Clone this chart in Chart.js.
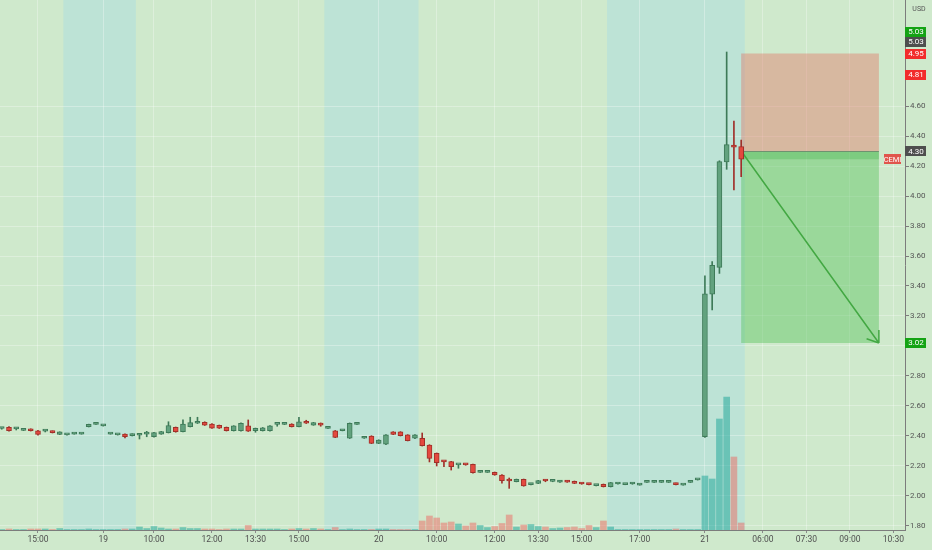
<!DOCTYPE html>
<html>
<head>
<meta charset="utf-8">
<script src="https://cdn.jsdelivr.net/npm/chart.js@4.4.0/dist/chart.umd.min.js"></script>
<style>
  html, body { margin: 0; padding: 0; background: #cfe9cc; }
  #wrap { width: 932px; height: 550px; }
</style>
</head>
<body>
<div id="wrap"><canvas id="chart"></canvas></div>
<script>
// CEMI 15 min bars, 18-21

const opens = [2.450, 2.458, 2.447, 2.437, 2.445, 2.435, 2.433, 2.431, 2.411, 2.407,
  2.413, 2.413, 2.462, 2.478, 2.467, 2.413, 2.407, 2.413, 2.402, 2.405,
  2.413, 2.395, 2.413, 2.422, 2.458, 2.429, 2.462, 2.485, 2.491, 2.480,
  2.471, 2.458, 2.435, 2.435, 2.467, 2.435, 2.435, 2.435, 2.478, 2.478,
  2.480, 2.462, 2.498, 2.473, 2.485, 2.451, 2.435, 2.435, 2.385, 2.478,
  2.385, 2.400, 2.351, 2.345, 2.427, 2.427, 2.407, 2.385, 2.385, 2.340,
  2.285, 2.230, 2.229, 2.207, 2.213, 2.211, 2.158, 2.158, 2.158, 2.140,
  2.105, 2.096, 2.111, 2.076, 2.084, 2.103, 2.097, 2.093, 2.102, 2.098,
  2.085, 2.080, 2.069, 2.078, 2.062, 2.080, 2.076, 2.080, 2.073, 2.091,
  2.091, 2.091, 2.091, 2.084, 2.073, 2.091, 2.107, 2.395, 3.345, 3.524,
  4.227, 4.340, 4.329];
const highs = [2.455, 2.462, 2.455, 2.442, 2.448, 2.437, 2.440, 2.434, 2.428, 2.408,
  2.414, 2.414, 2.479, 2.479, 2.468, 2.414, 2.408, 2.415, 2.415, 2.415,
  2.431, 2.424, 2.431, 2.495, 2.460, 2.507, 2.525, 2.525, 2.495, 2.482,
  2.473, 2.460, 2.469, 2.487, 2.507, 2.453, 2.457, 2.469, 2.480, 2.480,
  2.482, 2.525, 2.505, 2.491, 2.487, 2.452, 2.437, 2.436, 2.487, 2.479,
  2.386, 2.402, 2.375, 2.409, 2.429, 2.429, 2.409, 2.409, 2.420, 2.342,
  2.287, 2.235, 2.231, 2.210, 2.215, 2.213, 2.159, 2.159, 2.160, 2.142,
  2.120, 2.113, 2.113, 2.082, 2.104, 2.108, 2.100, 2.104, 2.104, 2.100,
  2.087, 2.082, 2.074, 2.080, 2.091, 2.081, 2.077, 2.087, 2.074, 2.092,
  2.092, 2.092, 2.092, 2.086, 2.074, 2.092, 2.108, 3.467, 3.562, 4.235,
  4.960, 4.500, 4.373];
const lows = [2.445, 2.432, 2.440, 2.436, 2.433, 2.405, 2.427, 2.420, 2.409, 2.406,
  2.412, 2.412, 2.460, 2.477, 2.466, 2.412, 2.406, 2.387, 2.400, 2.380,
  2.395, 2.393, 2.411, 2.420, 2.425, 2.427, 2.460, 2.483, 2.470, 2.450,
  2.450, 2.433, 2.433, 2.433, 2.430, 2.425, 2.433, 2.433, 2.465, 2.476,
  2.460, 2.460, 2.483, 2.471, 2.465, 2.450, 2.389, 2.434, 2.383, 2.477,
  2.384, 2.349, 2.349, 2.343, 2.409, 2.400, 2.367, 2.383, 2.333, 2.227,
  2.200, 2.195, 2.173, 2.185, 2.205, 2.153, 2.157, 2.157, 2.138, 2.085,
  2.051, 2.094, 2.065, 2.074, 2.082, 2.095, 2.095, 2.091, 2.091, 2.082,
  2.078, 2.074, 2.067, 2.060, 2.060, 2.079, 2.075, 2.078, 2.072, 2.090,
  2.090, 2.090, 2.090, 2.074, 2.072, 2.090, 2.106, 2.390, 3.240, 3.484,
  4.178, 4.040, 4.129];
const closes = [2.452, 2.435, 2.448, 2.439, 2.435, 2.411, 2.434, 2.422, 2.427, 2.407,
  2.413, 2.413, 2.478, 2.478, 2.467, 2.413, 2.407, 2.395, 2.413, 2.413,
  2.414, 2.422, 2.429, 2.470, 2.429, 2.480, 2.489, 2.486, 2.473, 2.453,
  2.453, 2.435, 2.467, 2.485, 2.433, 2.451, 2.455, 2.467, 2.479, 2.479,
  2.462, 2.495, 2.485, 2.489, 2.473, 2.451, 2.391, 2.435, 2.485, 2.478,
  2.385, 2.351, 2.373, 2.407, 2.411, 2.402, 2.369, 2.407, 2.335, 2.251,
  2.222, 2.228, 2.195, 2.208, 2.207, 2.155, 2.158, 2.158, 2.140, 2.102,
  2.100, 2.111, 2.067, 2.080, 2.102, 2.100, 2.099, 2.102, 2.093, 2.084,
  2.080, 2.076, 2.072, 2.062, 2.089, 2.080, 2.076, 2.081, 2.073, 2.091,
  2.091, 2.091, 2.091, 2.076, 2.073, 2.091, 2.107, 3.347, 3.538, 4.229,
  4.342, 4.325, 4.245];
// volume, thousands of shares
const volumes = [1, 2, 1, 1, 2, 2, 2, 1, 3, 1,
  1, 1, 2, 1, 1, 1, 1, 2, 2, 6,
  3, 7, 4, 2, 2, 5, 3, 3, 2, 2,
  1, 2, 2, 2, 9, 2, 2, 2, 2, 1,
  2, 3, 2, 3, 2, 1, 5, 1, 2, 1,
  1, 1, 2, 2, 1, 1, 1, 1, 18, 28,
  24, 14, 16, 12, 8, 14, 9, 5, 7, 13,
  30, 6, 10, 11, 7, 6, 3, 4, 5, 6,
  3, 9, 5, 18, 6, 1, 1, 1, 1, 1,
  1, 1, 1, 2, 1, 1, 1, 108, 102, 222,
  266, 146, 14];

// extended-hours sessions, first and last bar
const extFirst = [9, 45, 84];
const extLast = [18, 57, 102];

const xTickIdx = [5, 14, 21, 29, 35, 41, 52, 60, 68, 74, 80, 88, 97, 105, 111, 117, 123];
const xTickText = ['15:00', '19', '10:00', '12:00', '13:30', '15:00', '20', '10:00', '12:00',
  '13:30', '15:00', '17:00', '21', '06:00', '07:30', '09:00', '10:30'];
const yTicks = [1.8, 2.0, 2.2, 2.4, 2.6, 2.8, 3.0, 3.2, 3.4, 3.6, 3.8, 4.0, 4.2, 4.4, 4.6];

// short position drawing
const posEntry = 4.30;
const posStop = 4.95;
const posTarget = 3.02;
const posFromBar = 102;
const posToBar = 121;

// labels on the price scale
const scaleLabelValues = [5.03, 5.03, 4.95, 4.81, 4.30, 3.02];
const scaleLabelKinds = ['last', 'high', 'stop', 'stop', 'last', 'target'];

const UP_FILL = '#62a27e', UP_LINE = '#3e7a58';
const DN_FILL = '#e4493f', DN_LINE = '#a0302a';
const BG = '#cfe9cc', EXT_BG = '#bde3d6';
const KIND_COLOR = { last: '#4e4e4e', high: '#14a314', stop: '#f22c2c', target: '#14a314' };

const idx = opens.map((_, i) => i);
const up = idx.map(i => closes[i] >= opens[i]);

const bgPlugin = {
  id: 'bg',
  beforeDraw(chart) {
    const { ctx, chartArea: a, scales: { x } } = chart;
    ctx.save();
    ctx.fillStyle = BG;
    ctx.fillRect(0, 0, chart.width, chart.height);
    ctx.fillStyle = EXT_BG;
    extFirst.forEach((f, k) => {
      const x0 = x.getPixelForValue(f - 0.5);
      const x1 = x.getPixelForValue(extLast[k] + 0.5);
      ctx.fillRect(x0, a.top, x1 - x0, a.bottom - a.top);
    });
    ctx.restore();
  }
};

const positionPlugin = {
  id: 'position',
  beforeDatasetsDraw(chart) {
    const { ctx, scales: { x, y } } = chart;
    const x0 = x.getPixelForValue(posFromBar);
    const x1 = x.getPixelForValue(posToBar);
    const yE = y.getPixelForValue(posEntry);
    const yS = y.getPixelForValue(posStop);
    const yT = y.getPixelForValue(posTarget);
    const yC = y.getPixelForValue(closes[closes.length - 1]);
    ctx.save();
    ctx.fillStyle = 'rgba(228,110,96,0.4)';
    ctx.fillRect(x0, yS, x1 - x0, yE - yS);
    ctx.fillStyle = 'rgba(76,190,80,0.4)';
    ctx.fillRect(x0, yE, x1 - x0, yT - yE);
    ctx.fillStyle = 'rgba(60,175,70,0.3)';
    ctx.fillRect(x0, yE, x1 - x0, yC - yE);
    ctx.strokeStyle = 'rgba(110,140,110,0.9)';
    ctx.lineWidth = 1;
    ctx.beginPath();
    ctx.moveTo(x0, Math.round(yE) + 0.5);
    ctx.lineTo(x1, Math.round(yE) + 0.5);
    ctx.stroke();
    // arrow
    ctx.strokeStyle = '#43a843';
    ctx.lineWidth = 1.5;
    ctx.beginPath();
    ctx.moveTo(x0, yE);
    ctx.lineTo(x1, yT);
    const ang = Math.atan2(yT - yE, x1 - x0) + Math.PI;
    [-0.62, 0.62].forEach(d => {
      ctx.moveTo(x1, yT);
      ctx.lineTo(x1 + 13 * Math.cos(ang + d), yT + 13 * Math.sin(ang + d));
    });
    ctx.stroke();
    ctx.restore();
  }
};

const scaleLabelPlugin = {
  id: 'scaleLabels',
  afterDraw(chart) {
    const { ctx, scales: { y } } = chart;
    const left = y.left;
    const placed = [];
    ctx.save();
    ctx.textBaseline = 'middle';
    ctx.textAlign = 'center';
    ctx.font = '8px Roboto';
    scaleLabelValues.forEach((v, k) => {
      let cy = y.getPixelForValue(v);
      while (placed.some(p => Math.abs(p - cy) < 10)) cy -= 10;
      placed.push(cy);
      ctx.fillStyle = KIND_COLOR[scaleLabelKinds[k]];
      ctx.fillRect(left, Math.round(cy - 5), 21, 10);
      ctx.fillStyle = '#ffffff';
      ctx.fillText(v.toFixed(2), left + 11, cy + 0.5);
    });
    // symbol label at last close
    const cy = y.getPixelForValue(closes[closes.length - 1]);
    ctx.fillStyle = '#e0554c';
    ctx.fillRect(left - 21, Math.round(cy - 5), 17, 10);
    ctx.fillStyle = '#ffffff';
    ctx.font = '7.5px Roboto';
    ctx.fillText('CEMI', left - 12.5, cy + 0.5);
    ctx.fillStyle = '#555555';
    ctx.font = '7px Roboto';
    ctx.fillText('USD', left + 14, 9);
    ctx.restore();
  }
};

const ctx = document.getElementById('chart').getContext('2d');
new Chart(ctx, {
  type: 'bar',
  data: {
    datasets: [
      {
        label: 'body',
        data: idx.map(i => ({ x: i, y: [Math.min(opens[i], closes[i]), Math.max(opens[i], closes[i])] })),
        backgroundColor: up.map(u => u ? UP_FILL : DN_FILL),
        borderColor: up.map(u => u ? UP_LINE : DN_LINE),
        borderWidth: 1,
        borderSkipped: false,
        barThickness: 5,
        minBarLength: 2,
        grouped: false,
        yAxisID: 'y',
        order: 0
      },
      {
        label: 'wick',
        data: idx.map(i => ({ x: i, y: [lows[i], highs[i]] })),
        backgroundColor: up.map(u => u ? UP_LINE : DN_LINE),
        borderWidth: 0,
        barThickness: 1,
        minBarLength: 1,
        grouped: false,
        yAxisID: 'y',
        order: 1
      },
      {
        label: 'volume',
        data: idx.map(i => ({ x: i, y: volumes[i] })),
        backgroundColor: up.map(u => u ? 'rgba(38,170,156,0.55)' : 'rgba(240,90,86,0.45)'),
        borderWidth: 0,
        barThickness: 6,
        grouped: false,
        yAxisID: 'v',
        order: 2
      }
    ]
  },
  options: {
    responsive: true,
    maintainAspectRatio: false,
    animation: false,
    layout: { padding: 0 },
    plugins: { legend: { display: false }, tooltip: { enabled: false } },
    scales: {
      x: {
        type: 'linear',
        min: -0.24,
        max: 124.6,
        offset: false,
        grid: { offset: false, color: 'rgba(255,255,255,0.3)', tickColor: '#8a8a8a', tickLength: 3 },
        border: { color: '#7c7c7c' },
        afterBuildTicks: s => { s.ticks = xTickIdx.map(v => ({ value: v })); },
        afterFit: s => { s.height = 20; s.paddingLeft = 0; s.paddingRight = 0; },
        ticks: {
          autoSkip: false,
          maxRotation: 0,
          padding: 2,
          color: '#4f4f4f',
          font: { family: 'Roboto', size: 8.5 },
          callback: v => xTickText[xTickIdx.indexOf(v)]
        }
      },
      y: {
        type: 'linear',
        position: 'right',
        min: 1.7733,
        max: 5.3067,
        grid: { color: 'rgba(255,255,255,0.3)', tickColor: '#7c7c7c', tickLength: 4 },
        border: { color: '#7c7c7c' },
        afterBuildTicks: s => { s.ticks = yTicks.map(v => ({ value: v })); },
        afterFit: s => { s.width = 27; s.paddingTop = 0; s.paddingBottom = 0; },
        ticks: {
          padding: 1,
          color: '#555555',
          font: { family: 'Roboto', size: 8 },
          callback: v => v.toFixed(2)
        }
      },
      v: {
        type: 'linear',
        display: false,
        min: 0,
        max: 1060
      }
    }
  },
  plugins: [bgPlugin, positionPlugin, scaleLabelPlugin]
});
</script>
</body>
</html>
